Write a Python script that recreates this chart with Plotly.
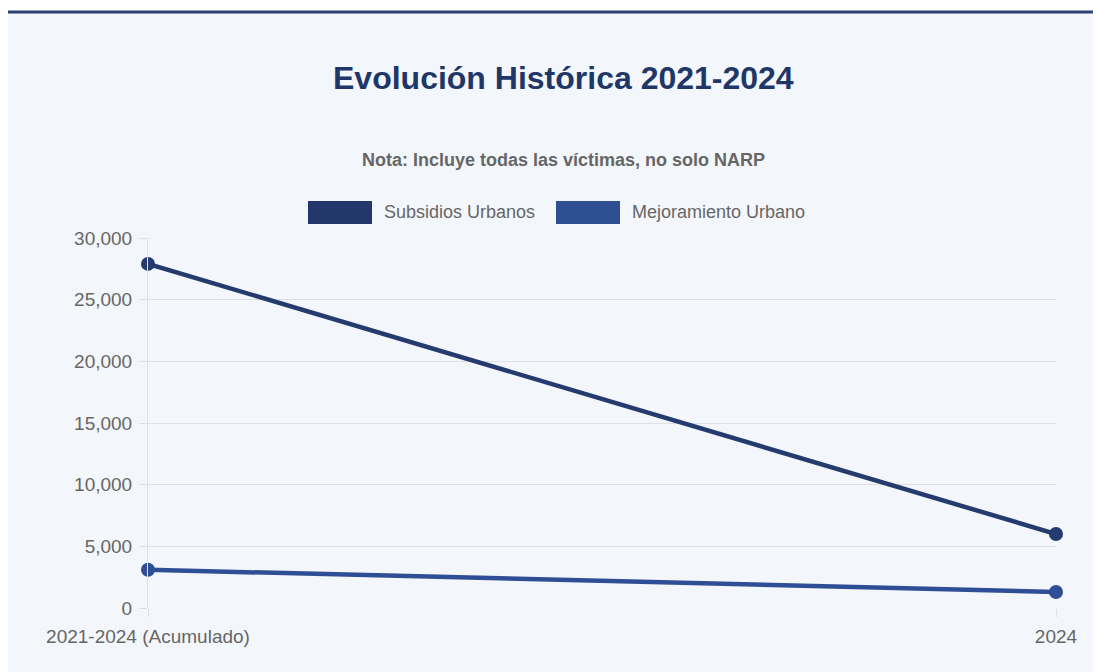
import plotly.graph_objects as go

categories = ["2021-2024 (Acumulado)", "2024"]
subsidios = [27900, 6000]
mejoramiento = [3100, 1300]
series_names = ["Subsidios Urbanos", "Mejoramiento Urbano"]
line_colors = ["#253b6f", "#2f4e95"]

OFF = 8  # page body margin
W, H = 1101 - OFF, 672 - OFF
L, R, T, B = 148, 1056, 238, 608  # target page pixel coords of plot area

def px_x(p):
    return (p - L) / (R - L)

def px_y(p):
    return (B - p) / (B - T)

FONT = "Liberation Sans, Arial"

fig = go.Figure()
for name, vals, col in zip(series_names, [subsidios, mejoramiento], line_colors):
    fig.add_trace(go.Scatter(
        x=categories, y=vals, mode="lines+markers", name=name,
        line=dict(color=col, width=4.5),
        marker=dict(color=col, size=14),
        cliponaxis=False, showlegend=False,
    ))

shapes = [
    dict(type="rect", xref="paper", yref="paper", x0=px_x(0), x1=px_x(1101), y0=px_y(672), y1=px_y(12),
         fillcolor="#f3f6fa", line=dict(width=0), layer="below"),
    dict(type="rect", xref="paper", yref="paper", x0=px_x(0), x1=px_x(1101), y0=px_y(13.5), y1=px_y(10.5),
         fillcolor="#2b4073", line=dict(width=0), layer="below"),
]
annotations = [
    dict(text="<b>Evolución Histórica 2021-2024</b>", xref="paper", yref="paper",
         x=px_x(563), y=px_y(78), showarrow=False, xanchor="center", yanchor="middle",
         font=dict(family=FONT, size=32, color="#1f3668")),
    dict(text="<b>Nota: Incluye todas las víctimas, no solo NARP</b>", xref="paper", yref="paper",
         x=px_x(563), y=px_y(160), showarrow=False, xanchor="center", yanchor="middle",
         font=dict(family=FONT, size=18, color="#666666")),
]
# legend
leg = [(308, 372, 382, series_names[0], "#22376b"), (556, 620, 630, series_names[1], "#2f4f93")]
for x0, x1, tx, name, col in leg:
    shapes.append(dict(type="rect", xref="paper", yref="paper", x0=px_x(x0), x1=px_x(x1),
                       y0=px_y(224), y1=px_y(201), fillcolor=col, line=dict(width=0)))
    annotations.append(dict(text=name, xref="paper", yref="paper", x=px_x(tx), y=px_y(212),
                            showarrow=False, xanchor="left", yanchor="middle",
                            font=dict(family=FONT, size=18, color="#666666")))

fig.update_layout(
    width=W, height=H,
    margin=dict(l=L - OFF, r=1101 - R, t=T - OFF, b=672 - B),
    paper_bgcolor="white", plot_bgcolor="rgba(0,0,0,0)",
    shapes=shapes, annotations=annotations,
    font=dict(family=FONT, size=18, color="#666666"),
    xaxis=dict(type="category", range=[0, 1], showgrid=True, gridcolor="#dde1e6",
               ticks="outside", ticklen=8, tickcolor="#dde1e6", zeroline=False,
               showline=False, ticklabelstandoff=3, tickfont=dict(size=19, color="#666666")),
    yaxis=dict(range=[0, 30000], dtick=5000, tickformat=",d", showgrid=True, gridcolor="#dde1e6",
               ticks="outside", ticklen=8, tickcolor="#dde1e6", zeroline=False,
               showline=True, linecolor="#dde1e6", ticklabelstandoff=3,
               tickfont=dict(size=19, color="#666666")),
)
fig.write_html("out.html")
